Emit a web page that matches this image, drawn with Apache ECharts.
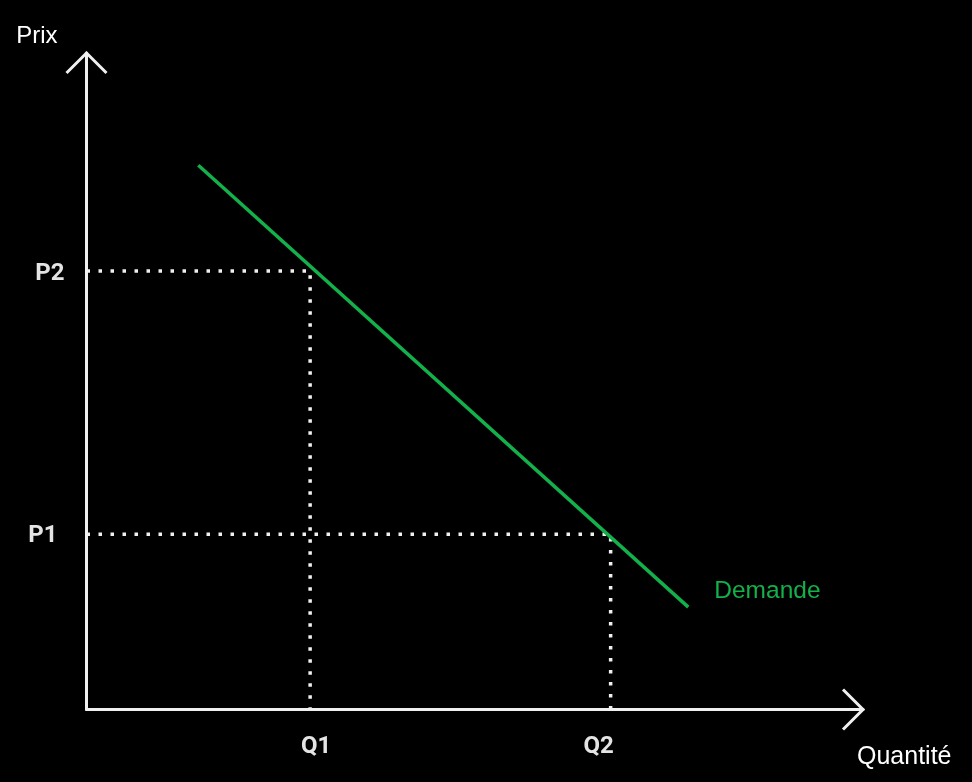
<!DOCTYPE html>
<html><head><meta charset="utf-8">
<script src="https://cdn.jsdelivr.net/npm/echarts@6/dist/echarts.min.js"></script>
<style>html,body{margin:0;padding:0;background:#000;}#c{width:972px;height:782px;}</style>
</head><body><div id="c"></div>
<script>
// ---- data ----
const quantityTicks = [2.88, 6.75];
const quantityLabels = ['Q1', 'Q2'];
const priceTicks = [2.67, 6.68];
const priceLabels = ['P1', 'P2'];
const demandX = [1.44, 7.75];
const demandY = [8.29, 1.56];
const demandName = 'Demande';
const axisMin = 0;
const axisMax = 10;

// ---- chart ----
const chart = echarts.init(document.getElementById('c'), null, {renderer: 'canvas'});
const WHITE = '#f0f0f0';
const GREEN = '#13b04b';
const TXT = 'Liberation Sans, Arial, Helvetica, sans-serif';

const demandData = demandX.map((x, i) => [x, demandY[i]]);
// P2 <-> Q1, P1 <-> Q2
const guide1 = [[axisMin, priceTicks[1]], [quantityTicks[0], priceTicks[1]], [quantityTicks[0], axisMin]];
const guide2 = [[axisMin, priceTicks[0]], [quantityTicks[1], priceTicks[0]], [quantityTicks[1], axisMin]];

function labelFor(values, labels) {
  return function (v) {
    for (let i = 0; i < values.length; i++) if (Math.abs(values[i] - v) < 1e-6) return '{' + labels[i].toLowerCase() + '|' + labels[i] + '}';
    return '';
  };
}
const tickFont = {color: '#e4e4e4', fontFamily: 'Roboto', fontWeight: 'bold', fontSize: 24};

const dotted = {color: WHITE, width: 3.5, type: [3.5, 8.5], cap: 'butt'};

const option = {
  backgroundColor: '#000',
  animation: false,
  grid: {left: 86.5, right: 109, top: 53, bottom: 72.5, containLabel: false},
  xAxis: {
    type: 'value', min: axisMin, max: axisMax,
    name: 'Quantité', nameLocation: 'end', nameGap: -6,
    nameTextStyle: {color: '#ffffff', fontFamily: TXT, fontSize: 25, align: 'left', verticalAlign: 'top', padding: [35, 0, 0, 0]},
    axisLine: {show: true, lineStyle: {color: WHITE, width: 3}},
    axisTick: {show: false},
    splitLine: {show: false},
    axisLabel: {
      show: true, customValues: quantityTicks, margin: 25,
      formatter: labelFor(quantityTicks, quantityLabels),
      rich: {q1: Object.assign({padding: [0, 0, 0, 12]}, tickFont), q2: Object.assign({padding: [0, 24, 0, 0]}, tickFont)},
      ...tickFont
    }
  },
  yAxis: {
    type: 'value', min: axisMin, max: axisMax,
    name: 'Prix', nameLocation: 'end', nameGap: 5,
    nameTextStyle: {color: '#ffffff', fontFamily: TXT, fontSize: 24, align: 'right', padding: [0, 29, 0, 0]},
    axisLine: {show: true, lineStyle: {color: WHITE, width: 3}},
    axisTick: {show: false},
    splitLine: {show: false},
    axisLabel: {
      show: true, customValues: priceTicks, margin: 22,
      formatter: labelFor(priceTicks, priceLabels),
      rich: {p1: Object.assign({padding: [4, 7, 0, 0]}, tickFont), p2: Object.assign({padding: [6, 0, 0, 0]}, tickFont)},
      ...tickFont
    }
  },
  series: [
    {type: 'line', data: guide1, showSymbol: false, silent: true, lineStyle: dotted, z: 2},
    {type: 'line', data: guide2, showSymbol: false, silent: true, lineStyle: dotted, z: 2},
    {
      type: 'line', name: demandName, data: demandData, showSymbol: false, z: 3,
      lineStyle: {color: GREEN, width: 3.5},
      endLabel: {show: true, formatter: demandName, color: GREEN, fontFamily: TXT, fontSize: 24.5, distance: 26, offset: [0, -16], align: 'left', verticalAlign: 'middle'}
    }
  ]
};
chart.setOption(option);

// open chevron arrow heads at the axis ends
const yEnd = chart.convertToPixel({gridIndex: 0}, [axisMin, axisMax]);
const xEnd = chart.convertToPixel({gridIndex: 0}, [axisMax, axisMin]);
const a = 20;
chart.setOption({
  graphic: [
    {type: 'polyline', shape: {points: [[yEnd[0] - a, yEnd[1] + a], [yEnd[0], yEnd[1]], [yEnd[0] + a, yEnd[1] + a]]}, style: {stroke: WHITE, lineWidth: 3, fill: null, lineJoin: 'miter'}, z: 10},
    {type: 'polyline', shape: {points: [[xEnd[0] - a, xEnd[1] - a], [xEnd[0], xEnd[1]], [xEnd[0] - a, xEnd[1] + a]]}, style: {stroke: WHITE, lineWidth: 3, fill: null, lineJoin: 'miter'}, z: 10}
  ]
});
</script>
</body></html>
